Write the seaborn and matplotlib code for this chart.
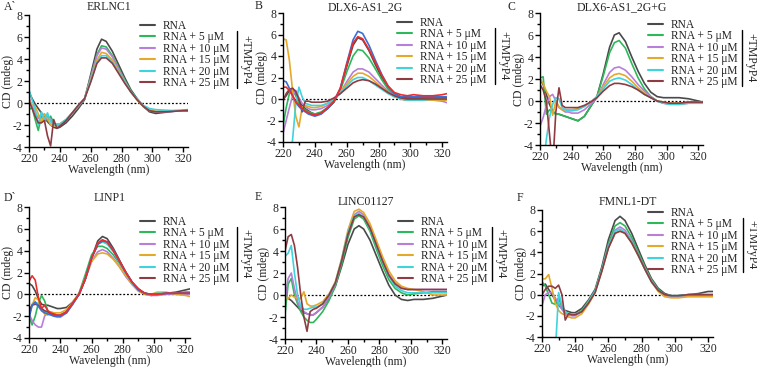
import matplotlib
matplotlib.use("Agg")
import matplotlib.pyplot as plt
from matplotlib.lines import Line2D
from matplotlib.ticker import MultipleLocator
import seaborn as sns
import pandas as pd

# wavelengths (nm) shared by every trace
wl = [220, 222, 224, 226, 228, 230, 232, 234, 236, 238, 240, 244, 248, 252, 256,
      260, 264, 267, 270, 274, 278, 282, 286, 290, 294, 298, 302, 308, 314, 320, 323]

# A` ERLNC1
a_rna = [1.0, 0.4, -0.1, -0.5, -0.9, -1.3, -1.7, -2.0, -2.2, -2.3, -2.2, -1.8, -1.2, -0.5, 0.3,
         2.6, 4.9, 5.8, 5.6, 4.7, 3.5, 2.3, 1.2, 0.4, -0.3, -0.8, -0.95, -0.85, -0.75, -0.7, -0.7]
a_5 = [-0.6, -0.4, -1.5, -2.5, -1.2, -1.0, -1.6, -1.2, -1.8, -2.0, -2.0, -1.6, -0.9, -0.3, 0.4,
       2.4, 4.4, 5.2, 5.1, 4.3, 3.2, 2.1, 1.1, 0.3, -0.3, -0.7, -0.8, -0.75, -0.7, -0.65, -0.6]
a_10 = [0.5, -0.3, -0.8, -1.4, -1.0, -1.7, -1.2, -1.5, -1.9, -2.1, -2.0, -1.6, -0.9, -0.3, 0.4,
        2.3, 4.3, 5.0, 4.9, 4.2, 3.1, 2.0, 1.0, 0.3, -0.3, -0.7, -0.8, -0.8, -0.75, -0.7, -0.75]
a_15 = [0.3, -0.2, -0.3, -1.0, -1.8, -1.0, -1.4, -2.0, -2.1, -1.9, -1.9, -1.5, -0.9, -0.2, 0.4,
        2.1, 3.9, 4.6, 4.5, 3.9, 2.9, 1.9, 1.0, 0.3, -0.3, -0.6, -0.75, -0.75, -0.7, -0.7, -0.7]
a_20 = [1.2, 0.3, -0.6, -2.0, -0.8, -1.5, -0.9, -1.7, -2.0, -2.0, -1.9, -1.5, -0.9, -0.2, 0.4,
        2.0, 3.7, 4.3, 4.3, 3.7, 2.8, 1.9, 1.0, 0.4, -0.2, -0.5, -0.6, -0.65, -0.7, -0.7, -0.7]
a_25 = [0.2, -0.5, -1.2, -1.8, -1.8, -1.6, -3.0, -3.9, -1.5, -2.3, -2.1, -1.6, -0.9, -0.2, 0.4,
        1.9, 3.6, 4.1, 4.1, 3.6, 2.7, 1.8, 1.0, 0.3, -0.3, -0.7, -0.8, -0.8, -0.75, -0.7, -0.7]

# B DLX6-AS1_2G
b_rna = [0.0, 0.3, 0.8, 1.0, 0.6, -0.2, -0.6, -0.9, -1.1, -1.3, -1.4, -1.3, -0.9, -0.3, 0.9,
         3.0, 5.0, 5.7, 5.5, 4.5, 3.2, 2.0, 1.1, 0.5, 0.2, 0.1, 0.1, 0.1, 0.1, 0.1, 0.1]
b_blue = [1.7, 1.6, 1.0, 0.3, -0.3, -0.7, -1.0, -1.2, -1.4, -1.5, -1.6, -1.4, -0.9, -0.2, 1.0,
          3.3, 5.5, 6.3, 6.1, 5.0, 3.6, 2.3, 1.2, 0.5, 0.2, 0.2, 0.2, 0.2, 0.2, 0.2, 0.2]
b_red = [1.1, 1.1, 0.8, 0.3, -0.2, -0.6, -0.9, -1.1, -1.3, -1.4, -1.5, -1.3, -0.8, -0.2, 1.0,
         3.2, 5.2, 5.8, 5.6, 4.6, 3.4, 2.2, 1.2, 0.6, 0.4, 0.3, 0.4, 0.3, 0.3, 0.4, 0.5]
b_5 = [-2.5, -0.8, 0.5, 0.9, 0.3, -0.4, -0.8, -1.0, -1.2, -1.3, -1.4, -1.2, -0.8, -0.2, 0.8,
       2.5, 4.0, 4.6, 4.5, 3.8, 2.8, 1.8, 0.9, 0.3, 0.0, -0.1, -0.1, -0.1, -0.1, -0.1, -0.1]
b_10 = [-3.2, -2.0, -0.8, 0.3, 0.8, 0.1, -0.4, -0.7, -0.9, -1.0, -1.0, -0.9, -0.6, -0.1, 0.6,
        1.6, 2.5, 2.8, 2.8, 2.5, 1.9, 1.3, 0.7, 0.3, 0.0, -0.1, -0.1, -0.1, -0.1, -0.2, -0.35]
b_15 = [5.6, 5.5, 3.6, 0.8, -1.6, -2.6, -0.8, -0.6, -0.7, -0.8, -0.8, -0.7, -0.4, 0.0, 0.6,
        1.4, 2.1, 2.4, 2.4, 2.1, 1.6, 1.1, 0.6, 0.2, 0.0, -0.1, -0.1, -0.1, -0.1, -0.1, -0.1]
b_20 = [-6.0, -6.0, -6.0, -3.8, -0.5, 1.1, 0.2, -0.4, -0.5, -0.6, -0.6, -0.6, -0.4, 0.0, 0.5,
        1.2, 1.8, 2.0, 2.0, 1.7, 1.3, 0.9, 0.5, 0.2, 0.0, -0.1, -0.1, -0.1, 0.0, 0.0, 0.0]
b_25 = [-0.2, 0.5, 0.9, 1.0, 0.7, 0.0, -1.2, -0.2, -0.2, -0.3, -0.3, -0.3, -0.2, 0.1, 0.5,
        1.0, 1.5, 1.7, 1.8, 1.7, 1.4, 1.0, 0.6, 0.3, 0.1, 0.0, 0.0, 0.0, 0.0, 0.0, 0.0]

# C DLX6-AS1_2G+G
c_rna = [2.0, 1.5, 0.6, -0.3, -0.9, -1.2, -1.2, -1.3, -1.4, -1.5, -1.6, -1.8, -1.4, -0.5, 0.4,
         2.5, 4.9, 6.0, 6.2, 5.4, 4.0, 2.7, 1.6, 0.8, 0.4, 0.3, 0.3, 0.3, 0.2, 0.0, -0.1]
c_5 = [2.1, 2.2, -1.2, -0.8, -1.0, -1.2, -1.2, -1.3, -1.4, -1.5, -1.6, -1.8, -1.4, -0.5, 0.4,
       2.3, 4.4, 5.3, 5.5, 4.8, 3.4, 2.1, 1.1, 0.4, 0.0, -0.2, -0.2, -0.2, -0.1, -0.1, -0.1]
c_10 = [-2.3, -1.5, -0.4, 0.4, 0.6, 0.0, -0.6, -0.8, -1.0, -1.0, -1.1, -1.1, -0.8, -0.3, 0.3,
        1.5, 2.6, 3.0, 3.1, 2.8, 2.2, 1.5, 0.9, 0.4, 0.0, -0.2, -0.3, -0.3, -0.2, -0.2, -0.2]
c_15 = [2.0, 1.6, 0.9, 0.4, -1.3, 0.0, -0.5, -0.8, -0.8, -0.8, -0.8, -0.7, -0.5, -0.1, 0.4,
        1.3, 2.1, 2.4, 2.5, 2.3, 1.8, 1.2, 0.7, 0.3, 0.0, -0.1, -0.2, -0.2, -0.1, -0.1, -0.1]
c_20 = [-6.0, -6.0, -3.5, -1.5, -0.3, 0.3, 0.2, -0.6, -0.8, -0.9, -0.9, -0.8, -0.5, -0.1, 0.4,
        1.1, 1.8, 2.0, 2.1, 1.9, 1.5, 1.0, 0.6, 0.3, 0.0, -0.2, -0.3, -0.3, -0.2, -0.2, -0.2]
c_25 = [1.5, 1.0, 0.0, -3.0, -6.0, -1.0, 1.2, -0.4, -0.6, -0.6, -0.6, -0.6, -0.4, -0.1, 0.3,
        0.9, 1.4, 1.6, 1.6, 1.5, 1.3, 1.0, 0.6, 0.3, 0.0, -0.1, -0.2, -0.2, -0.1, -0.1, -0.1]

# D` LINP1
d_rna = [1.0, 0.8, 0.3, -0.4, -0.9, -1.0, -1.0, -1.1, -1.2, -1.3, -1.3, -1.2, -0.7, 0.0, 1.4,
         3.3, 4.9, 5.3, 5.1, 4.2, 3.1, 2.0, 1.1, 0.5, 0.1, -0.1, 0.0, 0.1, 0.2, 0.4, 0.5]
d_blue = [-2.2, -1.0, -0.7, -1.1, -1.5, -1.7, -1.8, -1.9, -2.0, -2.0, -2.0, -1.7, -0.9, 0.0, 1.4,
          3.3, 4.6, 4.9, 4.8, 4.1, 3.0, 2.0, 1.1, 0.4, 0.1, 0.0, 0.0, 0.1, 0.1, 0.2, 0.2]
d_red = [1.2, 1.7, 1.3, -0.3, -1.3, -1.0, -1.5, -1.7, -1.8, -1.9, -1.9, -1.6, -0.8, 0.0, 1.4,
         3.3, 4.7, 5.0, 4.8, 4.0, 3.0, 2.0, 1.1, 0.5, 0.1, 0.0, 0.0, 0.1, 0.1, 0.1, 0.1]
d_5 = [-2.0, -2.8, -2.0, -0.8, -0.1, -0.6, -1.5, -1.7, -1.8, -1.9, -1.9, -1.6, -0.8, 0.1, 1.8,
       3.6, 4.4, 4.4, 4.2, 3.6, 2.8, 1.9, 1.0, 0.4, 0.1, 0.0, 0.0, 0.1, 0.1, 0.1, 0.1]
d_10 = [-1.8, -2.4, -2.8, -3.0, -3.0, -2.0, -1.6, -1.8, -2.0, -2.1, -2.1, -1.7, -0.9, 0.0, 1.4,
        3.0, 3.9, 4.1, 3.9, 3.3, 2.5, 1.6, 0.9, 0.3, 0.0, -0.1, -0.1, 0.0, 0.0, 0.0, 0.0]
d_15 = [-1.8, -1.0, -0.3, -0.5, -1.4, -1.8, -1.9, -1.6, -1.7, -1.7, -1.7, -1.4, -0.7, 0.1, 1.5,
        3.0, 3.7, 3.8, 3.7, 3.2, 2.5, 1.7, 0.9, 0.3, 0.0, 0.0, 0.2, 0.2, 0.0, -0.1, -0.2]
d_20 = [-2.0, -0.9, -0.7, -0.9, -1.4, -1.6, -1.7, -1.8, -1.9, -1.9, -1.9, -1.6, -0.8, 0.0, 1.4,
        3.3, 4.6, 4.8, 4.6, 3.9, 2.9, 1.9, 1.0, 0.4, 0.1, 0.0, 0.1, 0.1, 0.1, 0.1, 0.1]
d_25 = [-1.5, -1.0, -0.9, -1.0, -1.3, -1.5, -1.6, -1.8, -1.9, -2.0, -2.0, -1.6, -0.8, 0.0, 1.4,
        3.3, 4.6, 4.9, 4.8, 4.0, 3.0, 2.0, 1.1, 0.4, 0.1, 0.0, 0.0, 0.1, 0.1, 0.1, 0.1]

# E LINC01127
e_rna = [-0.3, -0.3, -0.5, -0.8, -1.1, -1.4, -1.6, -1.7, -1.8, -1.8, -1.6, -1.1, -0.3, 0.8, 2.6,
         4.6, 6.0, 6.3, 6.0, 5.0, 3.6, 2.2, 0.9, 0.0, -0.4, -0.5, -0.4, -0.4, -0.3, -0.1, 0.0]
e_5 = [-1.8, 1.0, 1.5, 0.0, -0.8, -1.5, -2.0, -2.3, -2.5, -2.5, -2.2, -1.5, -0.5, 0.8, 2.8,
       5.2, 6.9, 7.2, 6.9, 5.8, 4.2, 2.7, 1.4, 0.6, 0.2, 0.0, 0.1, 0.2, 0.3, 0.3, 0.3]
e_10 = [-0.5, 1.5, 2.0, 0.6, -0.6, -1.2, -1.5, -1.7, -1.8, -1.8, -1.6, -1.1, -0.2, 1.0, 3.1,
        5.6, 7.3, 7.6, 7.3, 6.2, 4.7, 3.2, 1.9, 1.1, 0.7, 0.5, 0.5, 0.5, 0.5, 0.5, 0.5]
e_15 = [-0.2, -0.3, 0.0, -0.2, -0.3, -0.3, 0.3, -0.8, -1.0, -1.0, -0.9, -0.6, 0.1, 1.2, 3.3,
        5.9, 7.6, 7.8, 7.5, 6.5, 5.0, 3.5, 2.2, 1.3, 0.8, 0.6, 0.5, 0.3, 0.0, 0.0, 0.0]
e_20 = [3.5, 3.8, 4.5, 2.0, 0.0, -1.0, -1.3, -1.3, -1.2, -1.1, -1.1, -0.8, 0.0, 1.1, 3.2,
        5.7, 7.2, 7.4, 7.1, 6.0, 4.5, 3.0, 1.7, 0.8, 0.4, 0.2, 0.2, 0.2, 0.2, 0.2, 0.2]
e_25 = [4.0, 5.3, 5.5, 4.5, 2.5, 0.0, -2.0, -3.3, -1.5, -1.3, -1.2, -0.8, 0.0, 1.1, 3.1,
        5.5, 7.1, 7.3, 7.1, 6.1, 4.6, 3.1, 1.8, 1.0, 0.6, 0.5, 0.5, 0.5, 0.5, 0.5, 0.5]

# F FMNL1-DT
f_rna = [0.8, 1.0, 0.5, 0.0, -0.5, -1.0, -1.3, -1.5, -1.6, -1.7, -1.7, -1.3, -0.5, 0.5, 2.6,
         5.2, 7.0, 7.4, 7.0, 5.8, 4.3, 2.8, 1.5, 0.6, 0.1, -0.1, -0.1, 0.0, 0.1, 0.3, 0.3]
f_5 = [1.2, 0.8, 0.0, -0.8, -0.9, -0.3, -1.2, -1.7, -1.8, -1.9, -1.9, -1.5, -0.6, 0.4, 2.4,
       4.8, 6.5, 6.8, 6.5, 5.4, 4.0, 2.6, 1.4, 0.5, 0.0, -0.1, -0.1, 0.0, 0.0, 0.0, 0.0]
f_10 = [-1.0, 0.0, 0.2, 0.2, -0.3, -0.8, -1.4, -1.8, -1.9, -2.0, -2.0, -1.6, -0.7, 0.3, 2.3,
        4.6, 6.1, 6.4, 6.1, 5.1, 3.8, 2.5, 1.3, 0.4, -0.1, -0.2, -0.2, -0.1, -0.1, -0.1, -0.1]
f_15 = [1.5, 1.5, 1.9, 0.6, -0.8, -1.5, -1.8, -1.9, -2.1, -2.2, -2.2, -1.8, -0.9, 0.2, 2.2,
        4.4, 5.8, 6.0, 5.8, 4.9, 3.7, 2.4, 1.2, 0.3, -0.2, -0.3, -0.3, -0.2, -0.2, -0.2, -0.2]
f_20 = [-3.8, -4.5, -6.0, -6.0, -5.5, 0.2, -1.0, -1.6, -1.8, -1.9, -1.9, -1.6, -0.7, 0.3, 2.3,
        4.5, 6.0, 6.2, 5.9, 5.0, 3.7, 2.4, 1.2, 0.4, 0.0, -0.1, -0.1, 0.0, 0.0, 0.0, 0.0]
f_25 = [0.0, 0.5, 0.8, 0.8, 0.6, 0.9, 0.0, -2.4, -1.8, -1.9, -1.9, -1.6, -0.8, 0.2, 2.2,
        4.4, 5.8, 6.0, 5.8, 4.9, 3.7, 2.4, 1.2, 0.4, 0.0, -0.1, -0.1, 0.0, 0.0, 0.0, 0.0]

labels = ["RNA", "RNA + 5 \u03bcM", "RNA + 10 \u03bcM", "RNA + 15 \u03bcM",
          "RNA + 20 \u03bcM", "RNA + 25 \u03bcM"]
titles = ["ERLNC1", "DLX6-AS1_2G", "DLX6-AS1_2G+G", "LINP1", "LINC01127", "FMNL1-DT"]
letters = ["A`", "B", "C", "D`", "E", "F"]

colors = {"RNA": "#4a4a4a", "RNA + 5 \u03bcM": "#2db85a", "RNA + 10 \u03bcM": "#b77fd9",
          "RNA + 15 \u03bcM": "#e5a92a", "RNA + 20 \u03bcM": "#3fd3dc",
          "RNA + 25 \u03bcM": "#8e3b42", "blue": "#3a6fd6", "red": "#ee2b2b"}

panels = [
    {"RNA": a_rna, labels[1]: a_5, labels[2]: a_10, labels[3]: a_15, labels[4]: a_20, labels[5]: a_25},
    {"RNA": b_rna, labels[1]: b_5, labels[2]: b_10, labels[3]: b_15, labels[4]: b_20, labels[5]: b_25,
     "blue": b_blue, "red": b_red},
    {"RNA": c_rna, labels[1]: c_5, labels[2]: c_10, labels[3]: c_15, labels[4]: c_20, labels[5]: c_25},
    {"RNA": d_rna, labels[1]: d_5, labels[2]: d_10, labels[3]: d_15, labels[4]: d_20, labels[5]: d_25,
     "blue": d_blue, "red": d_red},
    {"RNA": e_rna, labels[1]: e_5, labels[2]: e_10, labels[3]: e_15, labels[4]: e_20, labels[5]: e_25},
    {"RNA": f_rna, labels[1]: f_5, labels[2]: f_10, labels[3]: f_15, labels[4]: f_20, labels[5]: f_25},
]

sns.set_theme(style="ticks")
plt.rcParams["font.family"] = ["Liberation Serif", "DejaVu Serif"]
plt.rcParams["axes.unicode_minus"] = False

W, H = 757, 367
fig = plt.figure(figsize=(W / 100, H / 100), dpi=100)

# axes boxes in pixels: left, right, top, bottom
boxes = [(29, 188, 15, 147), (283, 447, 13, 142), (540, 703, 13, 145),
         (29, 190, 207, 338), (285, 447, 207, 339), (542, 713, 210, 337)]
# legend first-row centre (px), bracket x, bracket y top/bottom
legs = [(140, 26, 237, 31, 88), (397, 23, 495, 28, 84), (648, 25, 742, 30, 86),
        (140, 222, 237, 227, 281), (398, 222, 492, 227, 281), (648, 213, 743, 218, 272)]
titles_y = [7, 7, 7, 198, 202, 202]
letter_pos = [(4, 7), (255, 6), (507, 7), (4, 198), (255, 197), (517, 198)]


def px(x, y):
    return x / W, 1 - y / H


for i, data in enumerate(panels):
    l, r, t, b = boxes[i]
    ax = fig.add_axes([l / W, 1 - b / H, (r - l) / W, (b - t) / H])
    long = pd.DataFrame({
        "wl": wl * len(data),
        "cd": [v for s in data.values() for v in s],
        "sample": [k for k in data for _ in wl],
    })
    sns.lineplot(data=long, x="wl", y="cd", hue="sample", palette=colors,
                 estimator=None, sort=False, lw=1.2, legend=False, ax=ax)
    ax.axhline(0, color="black", ls=(0, (1.5, 1.5)), lw=0.9, zorder=0)
    ax.set_xlim(220, 323)
    ax.set_ylim(-4, 8)
    ax.xaxis.set_major_locator(MultipleLocator(20))
    ax.xaxis.set_minor_locator(MultipleLocator(10))
    ax.yaxis.set_major_locator(MultipleLocator(2))
    ax.yaxis.set_minor_locator(MultipleLocator(1))
    ax.tick_params(which="major", length=3.5, width=1, labelsize=8.5, pad=1, color="black")
    ax.tick_params(which="minor", length=2, width=1, color="black")
    for s in ("left", "bottom"):
        ax.spines[s].set_color("black")
        ax.spines[s].set_linewidth(1)
    sns.despine(ax=ax)
    ax.set_xlabel("Wavelength (nm)", fontsize=8.5, va="center")
    ax.set_ylabel("CD (mdeg)", fontsize=8.5, va="center")
    # label centres: 21 px left of the y spine, 23 px below the x spine
    ax.yaxis.set_label_coords(-21 / (r - l), 0.5)
    ax.xaxis.set_label_coords(0.5, -23 / (b - t))
    cx = (l + r) / 2 / W
    fig.text(cx, 1 - titles_y[i] / H, titles[i], fontsize=8.5, ha="center", va="center")

    lx, ly, bx, by0, by1 = legs[i]
    handles = [Line2D([], [], color=colors[k], lw=1.5) for k in labels]
    fig.legend(handles, labels, loc="upper left", bbox_to_anchor=px(lx, ly - 6),
               bbox_transform=fig.transFigure, frameon=False, fontsize=8.3,
               handlelength=1.3, handletextpad=0.7, labelspacing=-0.05,
               borderpad=0, borderaxespad=0)
    fig.add_artist(Line2D([bx / W, bx / W], [1 - by0 / H, 1 - by1 / H],
                          color="black", lw=1, transform=fig.transFigure))
    fig.text((bx + 2) / W, 1 - (by0 + by1) / 2 / H, "+TMPyP4", rotation=270,
             ha="left", va="center", fontsize=8.5)
    fx, fy = letter_pos[i]
    fig.text(fx / W, 1 - fy / H, letters[i], fontsize=8.5, ha="left", va="center")

fig.savefig("out.png", dpi=100)
